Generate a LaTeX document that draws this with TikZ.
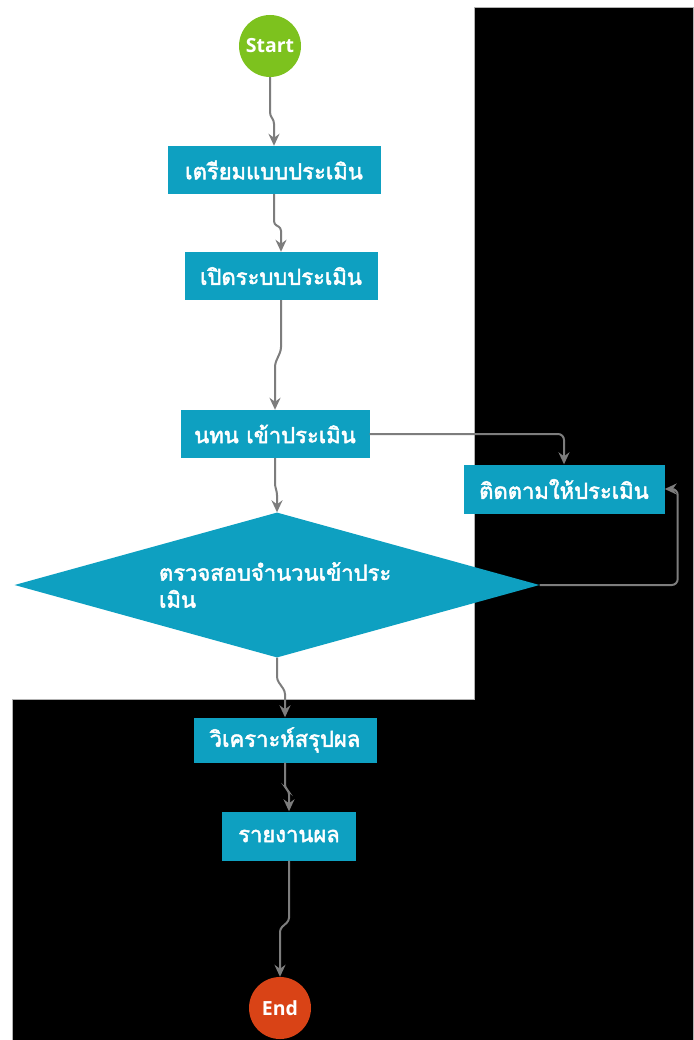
\documentclass[tikz,border=0pt]{standalone}
\usepackage{fontspec}
\setmainfont{Open Sans}
\newfontfamily\thaifont[Script=Thai,FakeBold=2.2]{Loma}
\usetikzlibrary{shapes,arrows,arrows.meta,calc}
\definecolor{boxblue}{RGB}{14,160,193}
\definecolor{startgreen}{RGB}{125,194,30}
\definecolor{endred}{RGB}{217,67,22}
\definecolor{linegray}{RGB}{125,125,125}
\tikzstyle{r} = [rectangle, minimum height=48pt, inner sep=0pt, fill=boxblue, text=white, text centered, font=\thaifont\fontsize{22}{26}\selectfont]
\tikzstyle{c} = [circle, minimum size=62pt, inner sep=0pt, text=white, font=\bfseries\fontsize{19.5}{22}\selectfont]
\tikzstyle{d} = [diamond, aspect=3.6, minimum width=525pt, minimum height=145pt, inner sep=0pt, fill=boxblue, text=white, text width=236pt, align=left, font=\thaifont\fontsize{22}{27}\selectfont]
\tikzstyle{a} = [draw=linegray, line width=2pt, -{Stealth[length=12pt,width=11pt,inset=4pt]}, rounded corners=3pt]

\begin{document}
\begin{tikzpicture}[x=1pt,y=-1pt]
	\useasboundingbox (0,0) rectangle (693,1040);
	\fill[white] (0,0) rectangle (693,1040);
	\filldraw[fill=black,draw=gray!60,line width=1pt] (474,8) -- (693,8) -- (693,1040) -- (12,1040) -- (12,699) -- (474,699) -- cycle;
	\node[c,fill=startgreen](s) at (270,46){Start};
	\node[r,minimum width=213pt](1) at (274,170){เตรียมแบบประเมิน};
	\node[r,minimum width=193pt](2) at (281,276){เปิดระบบประเมิน};
	\node[r,minimum width=189pt](3) at (275,434){นทน เข้าประเมิน};
	\node[r,minimum width=201pt,minimum height=49pt](4) at (564,489){ติดตามให้ประเมิน};
	\node[d](d) at (277,585){ตรวจสอบจำนวนเข้าประ\\เมิน};
	\node[r,minimum width=183pt,minimum height=45pt](5) at (285,740){วิเคราะห์สรุปผล};
	\node[r,minimum width=134pt,minimum height=49pt](6) at (289,836){รายงานผล};
	\node[c,fill=endred](e) at (280,1008){End};
	\draw[a] (s.south) -- ++(0,38) -- ($(1.north)+(0,-25)$) -- (1.north);
	\draw[a] (1.south) -- ++(0,30) -- ($(2.north)+(0,-24)$) -- (2.north);
	\draw[a] (2.south) -- ++(0,50) -- ($(3.north)+(0,-46)$) -- (3.north);
	\draw[a] (3.south) -- ++(0,28) -- ($(d.north)+(0,-20)$) -- (d.north);
	\draw[a] (d.south) -- ++(0,22) -- ($(5.north)+(0,-26)$) -- (5.north);
	\draw[a] (5.south) -- ++(0,25) -- ($(6.north)+(0,-20)$) -- (6.north);
	\draw[a] (6.south) -- ++(0,60) -- ($(e.north)+(0,-48)$) -- (e.north);
	\draw[a,rounded corners=6pt] (3.east) -| (4.north);
	\draw[a,rounded corners=6pt] (d.east) -- ++(138,0) |- (4.east);
\end{tikzpicture}
\end{document}
